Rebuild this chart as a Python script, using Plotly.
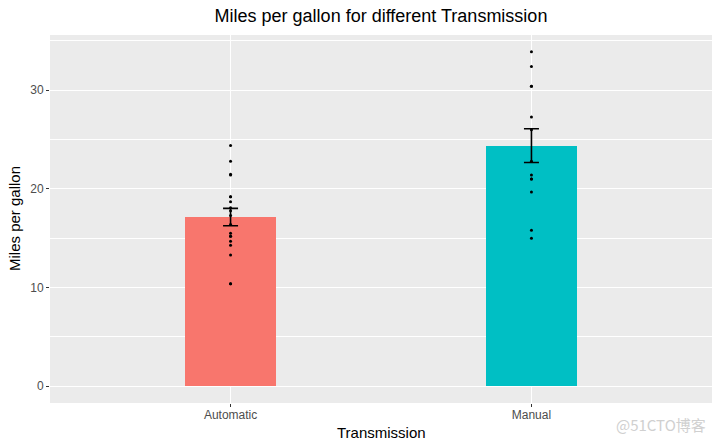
import plotly.graph_objects as go

categories = ["Automatic", "Manual"]
mean_mpg = [17.147, 24.392]
se_mpg = [0.880, 1.710]
bar_colors = ["#F8766D", "#00BFC4"]
auto_mpg = [21.4, 18.7, 18.1, 14.3, 24.4, 22.8, 19.2, 17.8, 16.4, 17.3, 15.2,
            10.4, 10.4, 14.7, 21.5, 15.5, 15.2, 13.3, 19.2]
manual_mpg = [21.0, 21.0, 22.8, 32.4, 30.4, 33.9, 27.3, 26.0, 30.4, 15.8, 19.7,
              15.0, 21.4]

fig = go.Figure()
fig.add_trace(go.Bar(x=categories, y=mean_mpg, width=0.3,
                     marker=dict(color=bar_colors, line=dict(width=0)),
                     showlegend=False, hoverinfo="skip"))
fig.add_trace(go.Scatter(x=[categories[0]] * len(auto_mpg) + [categories[1]] * len(manual_mpg),
                         y=auto_mpg + manual_mpg, mode="markers",
                         marker=dict(color="black", size=3, line=dict(width=0)),
                         showlegend=False))
fig.add_trace(go.Scatter(x=categories, y=mean_mpg, mode="markers",
                         marker=dict(size=0.1, opacity=0),
                         error_y=dict(type="data", array=se_mpg, color="black",
                                      thickness=1.6, width=7.5),
                         showlegend=False))

font_family = "Liberation Sans, Arial, Helvetica, sans-serif"
fig.update_layout(
    width=718, height=443,
    margin=dict(l=50, r=6, t=35, b=40, autoexpand=False),
    paper_bgcolor="white", plot_bgcolor="#EBEBEB",
    font=dict(family=font_family),
    title=dict(text="Miles per gallon for different Transmission", x=0.5, xref="paper",
               y=1 - 16 / 443, yanchor="middle",
               font=dict(size=18, color="black", family=font_family)),
    bargap=0,
)
fig.update_xaxes(
    type="category", range=[-0.6, 1.6], automargin=False,
    showgrid=True, gridcolor="white", gridwidth=1.1,
    ticks="outside", ticklen=3, tickcolor="#333333", tickwidth=1,
    tickfont=dict(size=12, color="#4D4D4D"), ticklabelstandoff=-2,
    showline=False, zeroline=False,
)
fig.update_yaxes(
    range=[-1.695, 35.6], tickvals=[0, 10, 20, 30], automargin=False,
    showgrid=True, gridcolor="white", gridwidth=1.1,
    minor=dict(tickvals=[5, 15, 25, 35], showgrid=True, gridcolor="white", gridwidth=0.5, ticks=""),
    ticks="outside", ticklen=3, tickcolor="#333333", tickwidth=1,
    tickfont=dict(size=12, color="#4D4D4D"),
    showline=False, zeroline=False,
)
fig.add_annotation(text="Transmission", xref="paper", yref="paper", x=0.5, y=-29 / 368,
                   xanchor="center", yanchor="middle", showarrow=False,
                   font=dict(size=15, color="black"))
fig.add_annotation(text="Miles per gallon", xref="paper", yref="paper", x=-36 / 662, y=0.5,
                   xanchor="center", yanchor="middle", textangle=-90, showarrow=False,
                   font=dict(size=15, color="black"))
fig.add_annotation(text="@51CTO博客", xref="paper", yref="paper", x=658 / 662, y=-21 / 368,
                   xanchor="right", yanchor="middle", showarrow=False,
                   font=dict(size=15, color="#D0D0D0", family="Noto Sans CJK SC, sans-serif"))

fig.write_html("out.html", config={"displayModeBar": False},
               post_script="document.body.style.margin='0px';document.body.style.overflow='hidden';")
